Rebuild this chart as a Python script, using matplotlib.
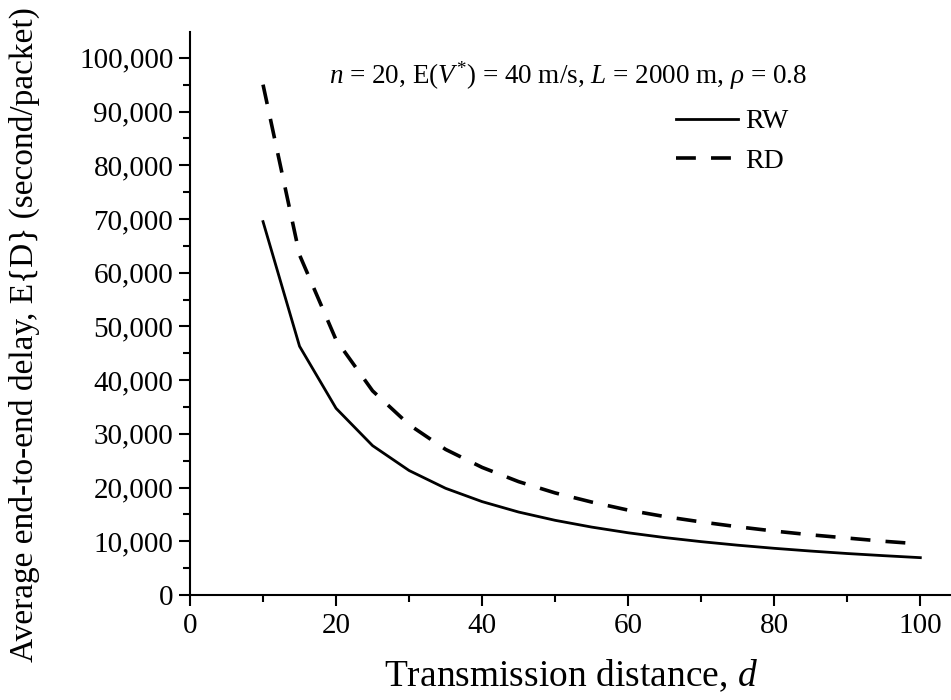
import numpy as np
import matplotlib
matplotlib.use("Agg")
import matplotlib.pyplot as plt
from matplotlib.ticker import MultipleLocator, FuncFormatter

# transmission distance d
d = [10, 15, 20, 25, 30, 35, 40, 45, 50, 55, 60, 65, 70, 75, 80, 85, 90, 95, 100]
# average end-to-end delay (second/packet)
rw = [69500, 46300, 34750, 27800, 23170, 19860, 17380, 15440, 13900, 12640,
      11580, 10690, 9930, 9270, 8690, 8180, 7720, 7320, 6950]
rd = [95000, 63300, 47500, 38000, 31700, 27100, 23750, 21100, 19000, 17300,
      15800, 14600, 13600, 12700, 11900, 11200, 10600, 10000, 9500]

plt.rcParams['font.family'] = 'Liberation Serif'
plt.rcParams['mathtext.fontset'] = 'custom'
plt.rcParams['mathtext.rm'] = 'Liberation Serif'
plt.rcParams['mathtext.it'] = 'Liberation Serif:italic'

fig = plt.figure(figsize=(9.51, 7.0), dpi=100)
ax = fig.add_axes([190/951, 105/700, 1 - 190/951, 563/700])

ax.plot(d, rw, color='black', linewidth=2.0, label='RW')
ax.plot(d, rd, color='black', linewidth=2.6, dashes=(5.5, 4.2), label='RD')

ax.set_xlim(0, 104.2)
ax.set_ylim(0, 104800)
ax.xaxis.set_major_locator(MultipleLocator(20))
ax.xaxis.set_minor_locator(MultipleLocator(10))
ax.yaxis.set_major_locator(MultipleLocator(10000))
ax.yaxis.set_minor_locator(MultipleLocator(5000))
ax.yaxis.set_major_formatter(FuncFormatter(lambda v, p: f"{int(v):,}"))

for s in ['top', 'right']:
    ax.spines[s].set_visible(False)
for s in ['left', 'bottom']:
    ax.spines[s].set_linewidth(1.5)
ax.tick_params(which='major', direction='out', length=8, width=1.5, labelsize=21)
ax.tick_params(which='minor', direction='out', length=5, width=1.5)
ax.tick_params(axis='x', pad=5)
ax.tick_params(axis='y', pad=4)

ax.set_xlabel("Transmission distance, $d$", fontsize=27)
ax.xaxis.set_label_coords(0.5, -0.112)
ax.set_ylabel("Average end-to-end delay, E{D} (second/packet)", fontsize=24)
ax.yaxis.set_label_coords(-0.197, 0.462)

ax.text(0.811, 0.909, r"$n$ = 20, E($V^{*}$) = 40 m/s, $L$ = 2000 m, $\rho$ = 0.8",
        transform=ax.transAxes, ha='right', va='baseline', fontsize=19.5)
ax.legend(loc='upper left', bbox_to_anchor=(0.620, 0.888), frameon=False, fontsize=20,
          handlelength=2.25, handletextpad=0.25, labelspacing=0.5, borderpad=0)

plt.savefig("out.png", dpi=100)
